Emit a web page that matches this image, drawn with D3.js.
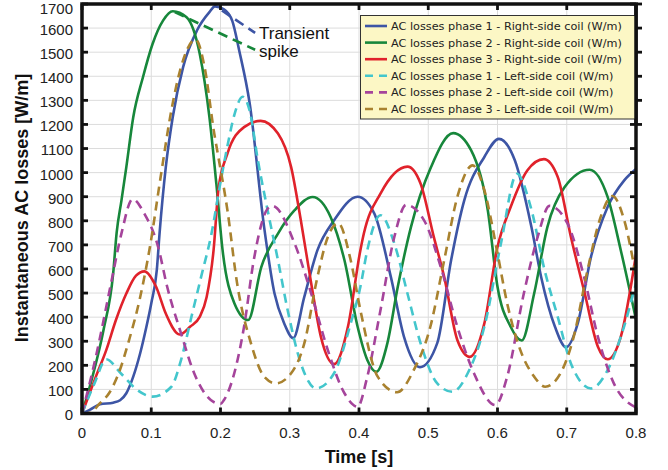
<!DOCTYPE html>
<html lang="en">
<head>
<meta charset="UTF-8">
<title>Instantaneous AC losses</title>
<script src="https://d3js.org/d3.v7.min.js"></script>
<style>
  body, html { margin: 0; background: #fff; }
  svg { display: block; }
  .tick-label { font-family: 'Liberation Sans', Arial, sans-serif; font-size: 15px; fill: #222; }
  .axis-title { font-family: 'Liberation Sans', Arial, sans-serif; font-size: 18px; font-weight: bold; fill: #111; }
  .legend-text { font-family: 'DejaVu Sans', sans-serif; font-size: 11.25px; fill: #222; }
  .note { font-family: 'Liberation Sans', Arial, sans-serif; font-size: 17px; fill: #111; }
</style>
</head>
<body>
<svg width="668" height="470"></svg>
<script>
// [time s, losses W/m]
const rightPhase1 = [[0,0],[0.011,15],[0.026,38],[0.045,45],[0.055,55],[0.064,84],[0.074,153],[0.084,250],[0.093,360],[0.1,457],[0.108,595],[0.112,748],[0.121,1023],[0.131,1230],[0.146,1438],[0.166,1590],[0.184,1666],[0.192,1690],[0.205,1678],[0.217,1630],[0.227,1507],[0.242,1290],[0.263,774],[0.278,498],[0.292,374],[0.305,313],[0.321,484],[0.34,678],[0.364,802],[0.398,900],[0.422,831],[0.446,567],[0.465,318],[0.488,192],[0.513,292],[0.533,636],[0.552,885],[0.581,1065],[0.602,1140],[0.625,1051],[0.649,774],[0.663,567],[0.683,360],[0.699,275],[0.716,375],[0.735,650],[0.759,857],[0.783,968],[0.8,1015]];
const rightPhase2 = [[0,0],[0.0164,167],[0.031,346],[0.045,581],[0.05,750],[0.057,885],[0.064,1023],[0.074,1230],[0.088,1396],[0.102,1535],[0.117,1631],[0.131,1670],[0.151,1645],[0.17,1493],[0.184,1230],[0.194,954],[0.203,678],[0.22,458],[0.24,388],[0.259,609],[0.283,747],[0.307,844],[0.333,899],[0.359,816],[0.379,636],[0.398,360],[0.412,222],[0.425,173],[0.441,292],[0.456,526],[0.475,774],[0.504,1023],[0.536,1164],[0.562,1092],[0.586,844],[0.6,526],[0.619,360],[0.635,303],[0.653,499],[0.672,774],[0.697,940],[0.733,1012],[0.759,899],[0.778,678],[0.8,390]];
const rightPhase3 = [[0,0],[0.02,153],[0.035,263],[0.049,388],[0.064,498],[0.078,572],[0.09,590],[0.107,526],[0.121,415],[0.141,328],[0.156,360],[0.17,401],[0.18,484],[0.19,678],[0.197,930],[0.21,1079],[0.234,1189],[0.258,1215],[0.283,1162],[0.302,1023],[0.316,802],[0.331,540],[0.345,318],[0.364,205],[0.384,360],[0.402,678],[0.407,747],[0.431,913],[0.47,1025],[0.489,954],[0.508,733],[0.523,567],[0.542,305],[0.56,235],[0.581,374],[0.6,691],[0.619,857],[0.643,1009],[0.667,1056],[0.687,982],[0.706,733],[0.726,498],[0.745,277],[0.759,225],[0.778,318],[0.8,660]];
const leftPhase1 = [[0,0],[0.018,125],[0.035,225],[0.056,167],[0.08,97],[0.102,70],[0.129,111],[0.143,222],[0.158,401],[0.172,567],[0.187,747],[0.2,960],[0.21,1110],[0.22,1240],[0.232,1315],[0.242,1258],[0.254,1051],[0.268,844],[0.283,636],[0.297,429],[0.316,208],[0.338,104],[0.364,167],[0.388,374],[0.402,526],[0.412,678],[0.431,823],[0.451,706],[0.47,498],[0.489,291],[0.513,125],[0.535,90],[0.557,167],[0.581,360],[0.605,706],[0.628,995],[0.648,857],[0.668,595],[0.687,401],[0.706,208],[0.735,104],[0.759,180],[0.778,318],[0.8,540]];
const leftPhase2 = [[0,0],[0.02,235],[0.042,541],[0.057,748],[0.073,890],[0.09,830],[0.11,691],[0.123,526],[0.143,333],[0.162,167],[0.186,56],[0.2,40],[0.205,56],[0.234,360],[0.248,636],[0.268,850],[0.275,862],[0.307,706],[0.331,498],[0.355,263],[0.379,84],[0.398,28],[0.412,153],[0.431,429],[0.451,733],[0.468,866],[0.494,802],[0.518,609],[0.542,360],[0.566,167],[0.597,35],[0.614,153],[0.638,498],[0.658,733],[0.675,862],[0.701,789],[0.725,567],[0.745,318],[0.768,125],[0.8,25]];
const leftPhase3 = [[0,0],[0.012,3],[0.025,40],[0.039,84],[0.054,175],[0.068,305],[0.083,470],[0.098,690],[0.114,990],[0.129,1258],[0.143,1438],[0.164,1553],[0.177,1438],[0.191,1162],[0.196,1080],[0.21,844],[0.224,540],[0.244,291],[0.263,153],[0.28,125],[0.302,167],[0.321,291],[0.34,567],[0.355,733],[0.37,790],[0.388,636],[0.402,429],[0.427,153],[0.455,88],[0.479,180],[0.503,360],[0.523,636],[0.542,899],[0.564,1030],[0.581,927],[0.6,665],[0.614,457],[0.633,263],[0.653,153],[0.669,111],[0.691,167],[0.71,318],[0.73,595],[0.749,816],[0.766,903],[0.783,802],[0.8,570]];

const seriesNames = [
  "AC losses phase 1 - Right-side coil (W/m)",
  "AC losses phase 2 - Right-side coil (W/m)",
  "AC losses phase 3 - Right-side coil (W/m)",
  "AC losses phase 1 - Left-side coil (W/m)",
  "AC losses phase 2 - Left-side coil (W/m)",
  "AC losses phase 3 - Left-side coil (W/m)"
];
const seriesData = [rightPhase1, rightPhase2, rightPhase3, leftPhase1, leftPhase2, leftPhase3];
const seriesColors = ["#3d55a5", "#17873b", "#e0222b", "#43c6cc", "#a5449b", "#a9822f"];
const seriesDashed = [false, false, false, true, true, true];

const xTicks = [0, 0.1, 0.2, 0.3, 0.4, 0.5, 0.6, 0.7, 0.8];
const yTicks = d3.range(0, 1701, 100);

// "Transient spike" pointers: [from, to] in data units
const spikePointers = [
  {color: "#3d55a5", pts: [[0.202, 1673], [0.25, 1580]]},
  {color: "#17873b", pts: [[0.134, 1666], [0.25, 1510]]}
];

const plotLeft = 82, plotRight = 636, plotTop = 4, plotBottom = 413.5;
const svg = d3.select("svg");
const x = d3.scaleLinear().domain([0, 0.8]).range([plotLeft, plotRight]);
const y = d3.scaleLinear().domain([0, 1700]).range([plotBottom, plotTop]);

// grid
svg.append("g").selectAll("line").data(xTicks).join("line")
  .attr("x1", d => x(d)).attr("x2", d => x(d)).attr("y1", plotTop).attr("y2", plotBottom)
  .attr("stroke", "#dcdcdc").attr("stroke-width", 1);
svg.append("g").selectAll("line").data(yTicks).join("line")
  .attr("x1", plotLeft).attr("x2", plotRight).attr("y1", d => y(d)).attr("y2", d => y(d))
  .attr("stroke", "#dcdcdc").attr("stroke-width", 1);

svg.append("clipPath").attr("id", "plot").append("rect")
  .attr("x", plotLeft).attr("y", plotTop).attr("width", plotRight - plotLeft).attr("height", plotBottom - plotTop);

const line = d3.line().x(d => x(d[0])).y(d => y(d[1])).curve(d3.curveMonotoneX);

const curves = svg.append("g").attr("clip-path", "url(#plot)");
seriesData.forEach((s, i) => {
  curves.append("path")
    .datum(s)
    .attr("d", line)
    .attr("fill", "none")
    .attr("stroke", seriesColors[i])
    .attr("stroke-width", 2.6)
    .attr("stroke-dasharray", seriesDashed[i] ? "9,6" : null);
});

// pointers to the spike
spikePointers.forEach(p => {
  svg.append("line")
    .attr("x1", x(p.pts[0][0])).attr("y1", y(p.pts[0][1]))
    .attr("x2", x(p.pts[1][0])).attr("y2", y(p.pts[1][1]))
    .attr("stroke", p.color).attr("stroke-width", 2.6).attr("stroke-dasharray", "10,6");
});
svg.append("text").attr("class", "note").attr("x", 259).attr("y", 39).text("Transient");
svg.append("text").attr("class", "note").attr("x", 259).attr("y", 57).text("spike");

// frame and ticks
svg.append("rect")
  .attr("x", plotLeft).attr("y", plotTop).attr("width", plotRight - plotLeft).attr("height", plotBottom - plotTop)
  .attr("fill", "none").attr("stroke", "#111").attr("stroke-width", 3.5);

const ticks = svg.append("g").attr("stroke", "#111").attr("stroke-width", 2.8);
xTicks.forEach(t => {
  ticks.append("line").attr("x1", x(t)).attr("x2", x(t)).attr("y1", plotBottom).attr("y2", plotBottom - 6);
  ticks.append("line").attr("x1", x(t)).attr("x2", x(t)).attr("y1", plotTop).attr("y2", plotTop + 6);
});
yTicks.forEach(v => {
  ticks.append("line").attr("x1", plotLeft).attr("x2", plotLeft + 6).attr("y1", y(v)).attr("y2", y(v));
  ticks.append("line").attr("x1", plotRight).attr("x2", plotRight - 6).attr("y1", y(v)).attr("y2", y(v));
});

// tick labels
svg.append("g").selectAll("text").data(xTicks).join("text")
  .attr("class", "tick-label")
  .attr("x", d => x(d)).attr("y", 438)
  .attr("text-anchor", "middle")
  .text(d => d === 0 ? "0" : d3.format(".1f")(d));
svg.append("g").selectAll("text").data(yTicks).join("text")
  .attr("class", "tick-label")
  .attr("x", 73).attr("y", d => Math.max(y(d) + 1.5, 8.5))
  .attr("dy", "0.36em")
  .attr("text-anchor", "end")
  .text(d => d);

// axis titles
svg.append("text").attr("class", "axis-title")
  .attr("x", x(0.4)).attr("y", 463).attr("text-anchor", "middle").text("Time [s]");
svg.append("text").attr("class", "axis-title")
  .attr("transform", "translate(28," + ((73 + 343) / 2) + ") rotate(-90)")
  .attr("text-anchor", "middle").text("Instantaneous AC losses [W/m]");

// legend
const legend = svg.append("g");
legend.append("rect")
  .attr("x", 360.5).attr("y", 15.5).attr("width", plotRight - 360.5).attr("height", 103.5)
  .attr("fill", "#fcf7c5").attr("stroke", "#333").attr("stroke-width", 1);
seriesNames.forEach((name, i) => {
  const ly = 26 + i * 16.6;
  legend.append("line")
    .attr("x1", 365).attr("x2", 387).attr("y1", ly).attr("y2", ly)
    .attr("stroke", seriesColors[i]).attr("stroke-width", 2.6)
    .attr("stroke-dasharray", seriesDashed[i] ? "8,6" : null);
  legend.append("text").attr("class", "legend-text")
    .attr("x", 391).attr("y", ly).attr("dy", "0.36em").text(name);
});
// redraw right frame edge over legend
svg.append("line").attr("x1", plotRight).attr("x2", plotRight).attr("y1", plotTop).attr("y2", 125)
  .attr("stroke", "#111").attr("stroke-width", 3.5);
yTicks.filter(v => y(v) < 125).forEach(v => {
  svg.append("line").attr("x1", plotRight + 1).attr("x2", plotRight + 6).attr("y1", y(v)).attr("y2", y(v))
    .attr("stroke", "#111").attr("stroke-width", 2.8);
});
</script>
</body>
</html>
